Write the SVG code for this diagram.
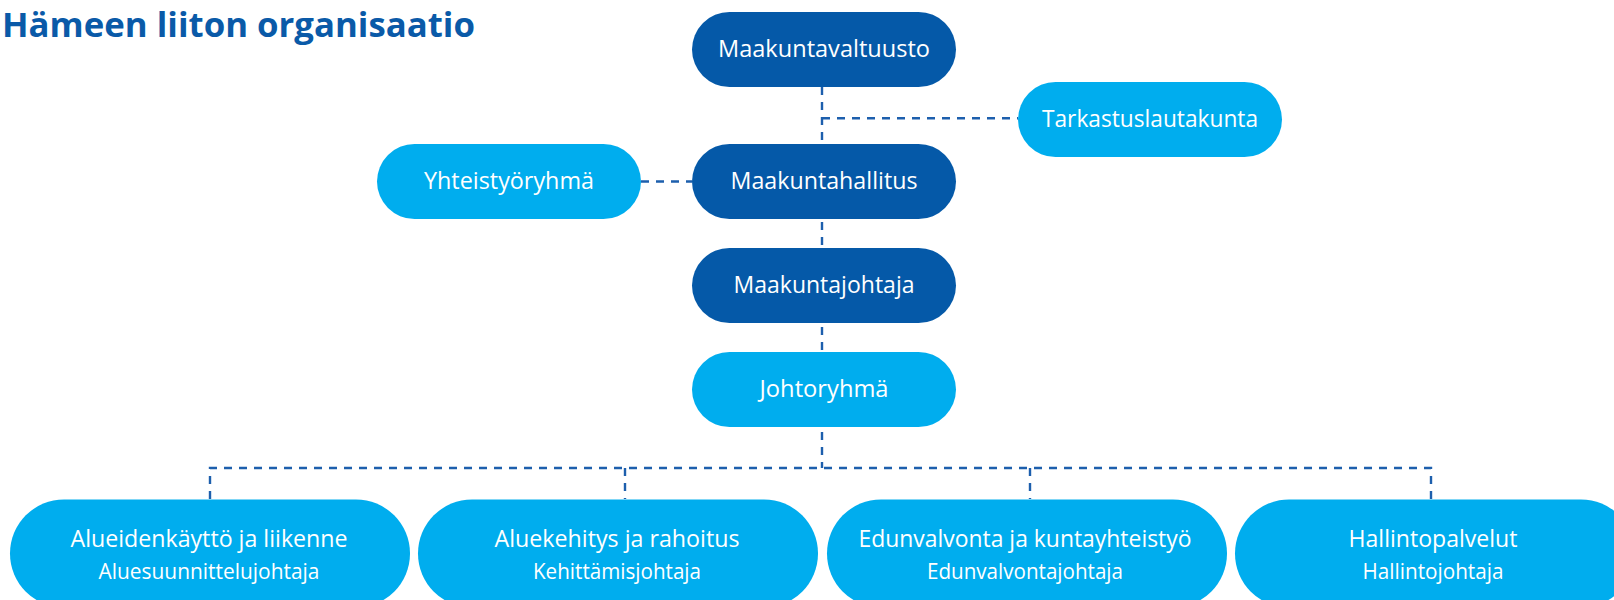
<svg xmlns="http://www.w3.org/2000/svg" width="1614" height="600" viewBox="0 0 1614 600">
<style>
.dark{fill:#0559a8}
.light{fill:#00adee}
.t{font-family:"Open Sans","Liberation Sans",sans-serif;fill:#ffffff;text-anchor:middle}
.n{font-size:23.5px}
.b1{font-size:24px}
.b2{font-size:21px}
.title{font-family:"Open Sans","Liberation Sans",sans-serif;font-weight:bold;font-size:34px;fill:#0a5aa8}
.con{fill:none;stroke:#1d5fad;stroke-width:2.4;stroke-dasharray:8 7}
</style>
<rect width="1614" height="600" fill="#ffffff"/>
<text class="title" x="2" y="36.5" textLength="473" lengthAdjust="spacingAndGlyphs">Hämeen liiton organisaatio</text>
<g id="connectors">
<path class="con" d="M822 87 V468"/>
<path class="con" d="M822 118.3 H1018"/>
<path class="con" d="M641 181.5 H692"/>
<path class="con" d="M210 499 V468 H1431 V499"/>
<path class="con" d="M625 468 V499"/>
<path class="con" d="M1030 468 V499"/>
</g>
<g id="maakuntavaltuusto">
<rect class="dark" x="692" y="12" width="264" height="75" rx="37.5"/>
<text class="t n" x="824" y="57" textLength="212" lengthAdjust="spacingAndGlyphs">Maakuntavaltuusto</text>
</g>
<g id="tarkastuslautakunta">
<rect class="light" x="1018" y="82" width="264" height="75" rx="37.5"/>
<text class="t n" x="1150" y="127" textLength="216" lengthAdjust="spacingAndGlyphs">Tarkastuslautakunta</text>
</g>
<g id="yhteistyoryhma">
<rect class="light" x="377" y="144" width="264" height="75" rx="37.5"/>
<text class="t n" x="509" y="189" textLength="170" lengthAdjust="spacingAndGlyphs">Yhteistyöryhmä</text>
</g>
<g id="maakuntahallitus">
<rect class="dark" x="692" y="144" width="264" height="75" rx="37.5"/>
<text class="t n" x="824" y="189" textLength="187" lengthAdjust="spacingAndGlyphs">Maakuntahallitus</text>
</g>
<g id="maakuntajohtaja">
<rect class="dark" x="692" y="248" width="264" height="75" rx="37.5"/>
<text class="t n" x="824" y="293" textLength="181" lengthAdjust="spacingAndGlyphs">Maakuntajohtaja</text>
</g>
<g id="johtoryhma">
<rect class="light" x="692" y="352" width="264" height="75" rx="37.5"/>
<text class="t n" x="824" y="397" textLength="129" lengthAdjust="spacingAndGlyphs">Johtoryhmä</text>
</g>
<g id="alueidenkaytto">
<rect class="light" x="10" y="499.5" width="400" height="108" rx="54"/>
<text class="t b1" x="209" y="547" textLength="277" lengthAdjust="spacingAndGlyphs">Alueidenkäyttö ja liikenne</text>
<text class="t b2" x="209" y="579" textLength="221" lengthAdjust="spacingAndGlyphs">Aluesuunnittelujohtaja</text>
</g>
<g id="aluekehitys">
<rect class="light" x="418" y="499.5" width="400" height="108" rx="54"/>
<text class="t b1" x="617" y="547" textLength="245" lengthAdjust="spacingAndGlyphs">Aluekehitys ja rahoitus</text>
<text class="t b2" x="617" y="579" textLength="168" lengthAdjust="spacingAndGlyphs">Kehittämisjohtaja</text>
</g>
<g id="edunvalvonta">
<rect class="light" x="827" y="499.5" width="400" height="108" rx="54"/>
<text class="t b1" x="1025" y="547" textLength="333" lengthAdjust="spacingAndGlyphs">Edunvalvonta ja kuntayhteistyö</text>
<text class="t b2" x="1025" y="579" textLength="196" lengthAdjust="spacingAndGlyphs">Edunvalvontajohtaja</text>
</g>
<g id="hallintopalvelut">
<rect class="light" x="1235" y="499.5" width="400" height="108" rx="54"/>
<text class="t b1" x="1433" y="547" textLength="169" lengthAdjust="spacingAndGlyphs">Hallintopalvelut</text>
<text class="t b2" x="1433" y="579" textLength="141" lengthAdjust="spacingAndGlyphs">Hallintojohtaja</text>
</g>
</svg>
